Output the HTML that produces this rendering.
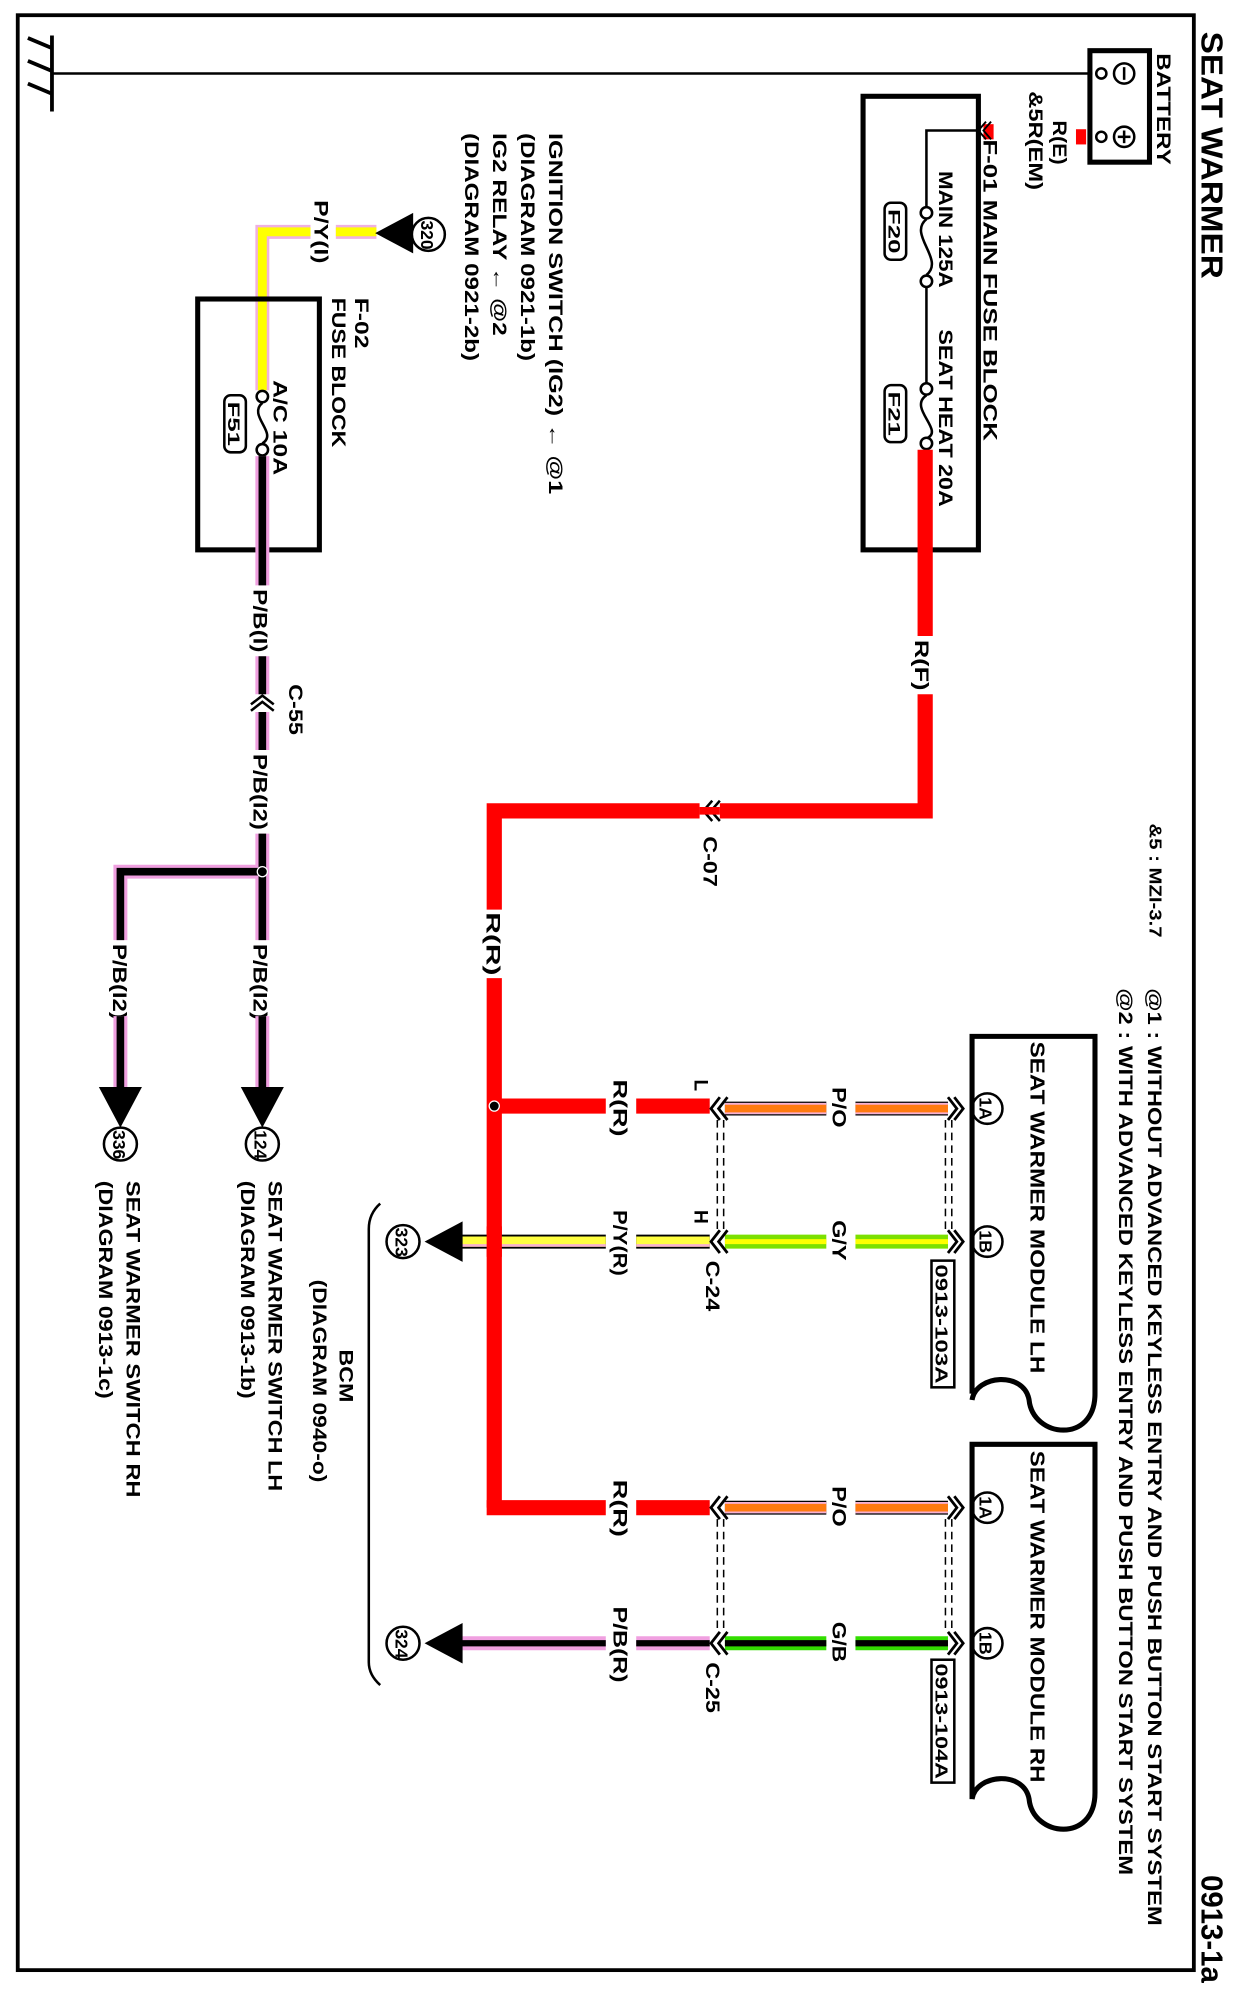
<!DOCTYPE html>
<html><head><meta charset="utf-8"><style>
html,body{margin:0;padding:0;background:#fff;}
svg{display:block}
text{font-family:"Liberation Sans",Arial,sans-serif;font-weight:bold;fill:#000;}
</style></head><body>
<svg width="1242" height="1998" viewBox="0 0 980 1577" preserveAspectRatio="none" xmlns="http://www.w3.org/2000/svg">
<rect x="0" y="0" width="980" height="1577" fill="#fff"/>
<rect x="14" y="12" width="928" height="1543" fill="none" stroke="#000" stroke-width="3"/>
<text font-size="24" font-weight="normal" transform="translate(948,25) rotate(90)" textLength="195" lengthAdjust="spacingAndGlyphs">SEAT WARMER</text>
<text font-size="24" font-weight="normal" transform="translate(948,1480) rotate(90)" textLength="85" lengthAdjust="spacingAndGlyphs">0913-1a</text>
<line x1="41" y1="28" x2="41" y2="88" stroke="#000" stroke-width="3"/>
<line x1="22" y1="30" x2="41" y2="38" stroke="#000" stroke-width="3"/>
<line x1="22" y1="48" x2="41" y2="56" stroke="#000" stroke-width="3"/>
<line x1="22" y1="66" x2="41" y2="74" stroke="#000" stroke-width="3"/>
<line x1="41" y1="58" x2="862" y2="58" stroke="#000" stroke-width="2"/>
<rect x="860" y="40" width="47" height="88" fill="none" stroke="#000" stroke-width="4"/>
<circle cx="869" cy="58" r="4" fill="#fff" stroke="#000" stroke-width="2"/>
<circle cx="887" cy="58" r="8" fill="none" stroke="#000" stroke-width="2"/>
<line x1="887" y1="53" x2="887" y2="63" stroke="#000" stroke-width="2"/>
<circle cx="869" cy="108" r="4" fill="#fff" stroke="#000" stroke-width="2"/>
<circle cx="887" cy="108" r="8" fill="none" stroke="#000" stroke-width="2"/>
<line x1="887" y1="103" x2="887" y2="113" stroke="#000" stroke-width="2"/>
<line x1="882" y1="108" x2="892" y2="108" stroke="#000" stroke-width="2"/>
<rect x="849" y="102" width="8" height="12" fill="#f00"/>
<text font-size="15" transform="translate(913,42) rotate(90)" textLength="88" lengthAdjust="spacingAndGlyphs">BATTERY</text>
<text font-size="15" transform="translate(831,95) rotate(90)" textLength="35" lengthAdjust="spacingAndGlyphs">R(E)</text>
<text font-size="15" transform="translate(812,72) rotate(90)" textLength="78" lengthAdjust="spacingAndGlyphs">&amp;5R(EM)</text>
<rect x="681" y="76" width="91" height="358" fill="none" stroke="#000" stroke-width="4"/>
<rect x="776" y="98" width="8" height="12" fill="#f00"/>
<polyline points="782,96 776,103 782,110" fill="none" stroke="#000" stroke-width="1.5"/>
<polyline points="778,96 772,103 778,110" fill="none" stroke="#000" stroke-width="1.5"/>
<polyline points="772,103 731,103 731,164" fill="none" stroke="#000" stroke-width="2"/>
<circle cx="731" cy="168" r="4.5" fill="#fff" stroke="#000" stroke-width="2"/>
<path d="M731,173 C716,185 746,205 731,217" fill="none" stroke="#000" stroke-width="2"/>
<circle cx="731" cy="222" r="4.5" fill="#fff" stroke="#000" stroke-width="2"/>
<line x1="731" y1="226" x2="731" y2="303" stroke="#000" stroke-width="2"/>
<circle cx="731" cy="307" r="4.5" fill="#fff" stroke="#000" stroke-width="2"/>
<path d="M731,312 C716,322 746,340 731,346" fill="none" stroke="#000" stroke-width="2"/>
<circle cx="731" cy="350" r="4.5" fill="#fff" stroke="#000" stroke-width="2"/>
<text font-size="15" transform="translate(776,110) rotate(90)" textLength="238" lengthAdjust="spacingAndGlyphs">F-01  MAIN FUSE BLOCK</text>
<text font-size="15" transform="translate(741,135) rotate(90)" textLength="92" lengthAdjust="spacingAndGlyphs">MAIN 125A</text>
<text font-size="15" transform="translate(741,260) rotate(90)" textLength="140" lengthAdjust="spacingAndGlyphs">SEAT HEAT 20A</text>
<rect x="698" y="160" width="17" height="45" rx="5" fill="none" stroke="#000" stroke-width="2"/>
<text font-size="13" transform="translate(701,165) rotate(90)" textLength="35" lengthAdjust="spacingAndGlyphs">F20</text>
<rect x="698" y="304" width="17" height="45" rx="5" fill="none" stroke="#000" stroke-width="2"/>
<text font-size="13" transform="translate(701,309) rotate(90)" textLength="35" lengthAdjust="spacingAndGlyphs">F21</text>
<g stroke="#f00" stroke-width="12" fill="none">
<line x1="730" y1="355" x2="730" y2="502"/>
<polyline points="730,548 730,640 390,640 390,718"/>
<line x1="390" y1="772" x2="390" y2="1190"/>
<polyline points="384,1190 478,1190"/>
<line x1="390" y1="873" x2="478" y2="873"/>
<line x1="502" y1="873" x2="560" y2="873"/>
<line x1="502" y1="1190" x2="560" y2="1190"/>
</g>
<rect x="552" y="630" width="16" height="20" fill="#fff"/>
<polyline points="562,632 555,640 562,648" fill="none" stroke="#000" stroke-width="2"/>
<polyline points="568,632 561,640 568,648" fill="none" stroke="#000" stroke-width="2"/>
<line x1="552" y1="640" x2="568" y2="640" stroke="#f00" stroke-width="6"/>
<text font-size="15" transform="translate(722,505) rotate(90)" textLength="40" lengthAdjust="spacingAndGlyphs">R(F)</text>
<text font-size="15" transform="translate(555,660) rotate(90)" textLength="40" lengthAdjust="spacingAndGlyphs">C-07</text>
<text font-size="15" transform="translate(384,720) rotate(90)" textLength="50" lengthAdjust="spacingAndGlyphs">R(R)</text>
<circle cx="390" cy="873" r="4" fill="#000" stroke="#fff" stroke-width="1"/>
<text font-size="14" transform="translate(907,650) rotate(90)" textLength="90" lengthAdjust="spacingAndGlyphs">&amp;5 : MZI-3.7</text>
<text font-size="15" transform="translate(906,780) rotate(90)" textLength="740" lengthAdjust="spacingAndGlyphs">@1 : WITHOUT ADVANCED KEYLESS ENTRY AND PUSH BUTTON START SYSTEM</text>
<text font-size="15" transform="translate(883,780) rotate(90)" textLength="700" lengthAdjust="spacingAndGlyphs">@2 : WITH ADVANCED KEYLESS ENTRY AND PUSH BUTTON START SYSTEM</text>
<path d="M767,1100 L767,818 L864,818 L864,1100 C864,1140 815,1135 812,1105 C808,1082 770,1085 767,1105" fill="none" stroke="#000" stroke-width="4"/>
<path d="M767,1420 L767,1140 L864,1140 L864,1415 C864,1455 815,1450 812,1420 C808,1397 770,1400 767,1420" fill="none" stroke="#000" stroke-width="4"/>
<text font-size="16" transform="translate(813,822) rotate(90)" textLength="262" lengthAdjust="spacingAndGlyphs">SEAT WARMER MODULE LH</text>
<text font-size="16" transform="translate(813,1145) rotate(90)" textLength="262" lengthAdjust="spacingAndGlyphs">SEAT WARMER MODULE RH</text>
<g fill="none" stroke="#000" stroke-width="2">
<circle cx="779" cy="875" r="12"/><circle cx="779" cy="980" r="12"/>
<circle cx="779" cy="1190" r="12"/><circle cx="779" cy="1297" r="12"/>
</g>
<g font-size="14">
<text transform="translate(773,866) rotate(90)" textLength="18" lengthAdjust="spacingAndGlyphs">1A</text>
<text transform="translate(773,971) rotate(90)" textLength="18" lengthAdjust="spacingAndGlyphs">1B</text>
<text transform="translate(773,1181) rotate(90)" textLength="18" lengthAdjust="spacingAndGlyphs">1A</text>
<text transform="translate(773,1288) rotate(90)" textLength="18" lengthAdjust="spacingAndGlyphs">1B</text>
</g>
<rect x="735" y="995" width="18" height="100" fill="#fff" stroke="#000" stroke-width="2"/>
<text font-size="14" transform="translate(738,998) rotate(90)" textLength="94" lengthAdjust="spacingAndGlyphs">0913-103A</text>
<rect x="735" y="1310" width="18" height="97" fill="#fff" stroke="#000" stroke-width="2"/>
<text font-size="14" transform="translate(738,1313) rotate(90)" textLength="91" lengthAdjust="spacingAndGlyphs">0913-104A</text>
<g fill="none">
<g stroke="#000" stroke-width="11"><line x1="572" y1="875" x2="652" y2="875"/><line x1="675" y1="875" x2="748" y2="875"/><line x1="572" y1="1190" x2="652" y2="1190"/><line x1="675" y1="1190" x2="748" y2="1190"/></g>
<g stroke="#f7b0d0" stroke-width="9"><line x1="572" y1="875" x2="652" y2="875"/><line x1="675" y1="875" x2="748" y2="875"/><line x1="572" y1="1190" x2="652" y2="1190"/><line x1="675" y1="1190" x2="748" y2="1190"/></g>
<g stroke="#ff7a10" stroke-width="6"><line x1="572" y1="875" x2="652" y2="875"/><line x1="675" y1="875" x2="748" y2="875"/><line x1="572" y1="1190" x2="652" y2="1190"/><line x1="675" y1="1190" x2="748" y2="1190"/></g>
<g stroke="#7ce000" stroke-width="11"><line x1="572" y1="980" x2="652" y2="980"/><line x1="675" y1="980" x2="748" y2="980"/></g>
<g stroke="#ffff00" stroke-width="4"><line x1="572" y1="980" x2="652" y2="980"/><line x1="675" y1="980" x2="748" y2="980"/></g>
<g stroke="#33dd00" stroke-width="11"><line x1="572" y1="1297" x2="652" y2="1297"/><line x1="675" y1="1297" x2="748" y2="1297"/></g>
<g stroke="#000" stroke-width="5"><line x1="572" y1="1297" x2="652" y2="1297"/><line x1="675" y1="1297" x2="748" y2="1297"/></g>
<g stroke="#000" stroke-width="11"><line x1="360" y1="980" x2="478" y2="980"/><line x1="502" y1="980" x2="560" y2="980"/></g>
<g stroke="#ffff40" stroke-width="8"><line x1="360" y1="980" x2="478" y2="980"/><line x1="502" y1="980" x2="560" y2="980"/></g>
<g stroke="#f7b0d0" stroke-width="2"><line x1="360" y1="983" x2="478" y2="983"/><line x1="502" y1="983" x2="560" y2="983"/></g>
<g stroke="#f0a0e0" stroke-width="11"><line x1="360" y1="1297" x2="478" y2="1297"/><line x1="502" y1="1297" x2="560" y2="1297"/></g>
<g stroke="#000" stroke-width="5"><line x1="360" y1="1297" x2="478" y2="1297"/><line x1="502" y1="1297" x2="560" y2="1297"/></g>
</g>
<line x1="390" y1="968" x2="390" y2="992" stroke="#f00" stroke-width="12"/>
<g fill="none" stroke="#000" stroke-width="2.2">
<polyline points="568,866 561,875 568,884"/><polyline points="574,866 567,875 574,884"/>
<polyline points="568,971 561,980 568,989"/><polyline points="574,971 567,980 574,989"/>
<polyline points="568,1181 561,1190 568,1199"/><polyline points="574,1181 567,1190 574,1199"/>
<polyline points="568,1288 561,1297 568,1306"/><polyline points="574,1288 567,1297 574,1306"/>
<polyline points="748,866 755,875 748,884"/><polyline points="753,866 760,875 753,884"/>
<polyline points="748,971 755,980 748,989"/><polyline points="753,971 760,980 753,989"/>
<polyline points="748,1181 755,1190 748,1199"/><polyline points="753,1181 760,1190 753,1199"/>
<polyline points="748,1288 755,1297 748,1306"/><polyline points="753,1288 760,1297 753,1306"/>
</g>
<g fill="none" stroke="#000" stroke-width="1.2" stroke-dasharray="6,4">
<line x1="566" y1="884" x2="566" y2="971"/><line x1="571" y1="884" x2="571" y2="971"/>
<line x1="566" y1="1199" x2="566" y2="1288"/><line x1="571" y1="1199" x2="571" y2="1288"/>
<line x1="746" y1="884" x2="746" y2="971"/><line x1="751" y1="884" x2="751" y2="971"/>
<line x1="746" y1="1199" x2="746" y2="1288"/><line x1="751" y1="1199" x2="751" y2="1288"/>
</g>
<g font-size="15">
<text transform="translate(484,852) rotate(90)" textLength="45" lengthAdjust="spacingAndGlyphs">R(R)</text>
<text transform="translate(484,1168) rotate(90)" textLength="45" lengthAdjust="spacingAndGlyphs">R(R)</text>
<text transform="translate(484,955) rotate(90)" textLength="52" lengthAdjust="spacingAndGlyphs">P/Y(R)</text>
<text transform="translate(484,1268) rotate(90)" textLength="60" lengthAdjust="spacingAndGlyphs">P/B(R)</text>
<text transform="translate(657,858) rotate(90)" textLength="32" lengthAdjust="spacingAndGlyphs">P/O</text>
<text transform="translate(657,1173) rotate(90)" textLength="32" lengthAdjust="spacingAndGlyphs">P/O</text>
<text transform="translate(657,963) rotate(90)" textLength="32" lengthAdjust="spacingAndGlyphs">G/Y</text>
<text transform="translate(657,1280) rotate(90)" textLength="32" lengthAdjust="spacingAndGlyphs">G/B</text>
<text transform="translate(548,852) rotate(90)">L</text>
<text transform="translate(548,955) rotate(90)">H</text>
<text transform="translate(557,995) rotate(90)" textLength="40" lengthAdjust="spacingAndGlyphs">C-24</text>
<text transform="translate(557,1312) rotate(90)" textLength="40" lengthAdjust="spacingAndGlyphs">C-25</text>
<text transform="translate(268,1065) rotate(90)" textLength="42" lengthAdjust="spacingAndGlyphs">BCM</text>
<text transform="translate(247,1010) rotate(90)" textLength="160" lengthAdjust="spacingAndGlyphs">(DIAGRAM 0940-o)</text>
</g>
<path d="M300,950 Q291,958 291,970 L291,1312 Q291,1322 300,1330" fill="none" stroke="#000" stroke-width="2"/>
<polygon points="335,980 365,964 365,996" fill="#000"/>
<polygon points="335,1297 365,1281 365,1313" fill="#000"/>
<circle cx="318" cy="980" r="13" fill="#fff" stroke="#000" stroke-width="2"/>
<circle cx="318" cy="1297" r="13" fill="#fff" stroke="#000" stroke-width="2"/>
<text font-size="14" transform="translate(312,969) rotate(90)" textLength="23" lengthAdjust="spacingAndGlyphs">323</text>
<text font-size="14" transform="translate(312,1286) rotate(90)" textLength="23" lengthAdjust="spacingAndGlyphs">324</text>
<g font-size="15">
<text transform="translate(433,105) rotate(90)" textLength="285" lengthAdjust="spacingAndGlyphs">IGNITION SWITCH (IG2) ← @1</text>
<text transform="translate(411,105) rotate(90)" textLength="180" lengthAdjust="spacingAndGlyphs">(DIAGRAM 0921-1b)</text>
<text transform="translate(389,105) rotate(90)" textLength="160" lengthAdjust="spacingAndGlyphs">IG2 RELAY ← @2</text>
<text transform="translate(367,105) rotate(90)" textLength="180" lengthAdjust="spacingAndGlyphs">(DIAGRAM  0921-2b)</text>
<text transform="translate(248,158) rotate(90)" textLength="50" lengthAdjust="spacingAndGlyphs">P/Y(I)</text>
<text transform="translate(280,235) rotate(90)" textLength="40" lengthAdjust="spacingAndGlyphs">F-02</text>
<text transform="translate(262,235) rotate(90)" textLength="118" lengthAdjust="spacingAndGlyphs">FUSE BLOCK</text>
<text transform="translate(216,300) rotate(90)" textLength="75" lengthAdjust="spacingAndGlyphs">A/C 10A</text>
<text transform="translate(200,465) rotate(90)" textLength="50" lengthAdjust="spacingAndGlyphs">P/B(I)</text>
<text transform="translate(228,540) rotate(90)" textLength="40" lengthAdjust="spacingAndGlyphs">C-55</text>
<text transform="translate(200,595) rotate(90)" textLength="60" lengthAdjust="spacingAndGlyphs">P/B(I2)</text>
<text transform="translate(200,745) rotate(90)" textLength="60" lengthAdjust="spacingAndGlyphs">P/B(I2)</text>
<text transform="translate(89,745) rotate(90)" textLength="60" lengthAdjust="spacingAndGlyphs">P/B(I2)</text>
<text transform="translate(212,932) rotate(90)" textLength="245" lengthAdjust="spacingAndGlyphs">SEAT WARMER SWITCH LH</text>
<text transform="translate(190,932) rotate(90)" textLength="172" lengthAdjust="spacingAndGlyphs">(DIAGRAM 0913-1b)</text>
<text transform="translate(100,932) rotate(90)" textLength="250" lengthAdjust="spacingAndGlyphs">SEAT WARMER SWITCH RH</text>
<text transform="translate(78,932) rotate(90)" textLength="172" lengthAdjust="spacingAndGlyphs">(DIAGRAM 0913-1c)</text>
</g>
<g fill="none">
<polyline points="297,183 265,183" stroke="#f0b0e0" stroke-width="11"/>
<polyline points="245,183 207,183 207,308" stroke="#f0b0e0" stroke-width="11"/>
<polyline points="297,183 265,183" stroke="#ffff00" stroke-width="7"/>
<polyline points="245,183 207,183 207,308" stroke="#ffff00" stroke-width="7"/>
</g>
<polygon points="296,184 326,168 326,200" fill="#000"/>
<circle cx="338" cy="185" r="13" fill="#fff" stroke="#000" stroke-width="2"/>
<text font-size="14" transform="translate(332,174) rotate(90)" textLength="23" lengthAdjust="spacingAndGlyphs">320</text>
<rect x="156" y="236" width="96" height="198" fill="none" stroke="#000" stroke-width="4"/>
<circle cx="207" cy="313" r="4.5" fill="#fff" stroke="#000" stroke-width="2"/>
<path d="M207,318 C195,328 220,342 207,350" fill="none" stroke="#000" stroke-width="2"/>
<circle cx="207" cy="355" r="4.5" fill="#fff" stroke="#000" stroke-width="2"/>
<rect x="177" y="312" width="17" height="45" rx="5" fill="none" stroke="#000" stroke-width="2"/>
<text font-size="13" transform="translate(180,317) rotate(90)" textLength="35" lengthAdjust="spacingAndGlyphs">F51</text>
<g fill="none">
<g stroke="#f0a0e0" stroke-width="11">
<line x1="207" y1="360" x2="207" y2="462"/><line x1="207" y1="518" x2="207" y2="548"/>
<line x1="207" y1="562" x2="207" y2="592"/><line x1="207" y1="658" x2="207" y2="742"/>
<line x1="207" y1="802" x2="207" y2="862"/>
<polyline points="207,688 95,688 95,742"/><line x1="95" y1="802" x2="95" y2="862"/>
</g>
<g stroke="#000" stroke-width="6">
<line x1="207" y1="360" x2="207" y2="462"/><line x1="207" y1="518" x2="207" y2="548"/>
<line x1="207" y1="562" x2="207" y2="592"/><line x1="207" y1="658" x2="207" y2="742"/>
<line x1="207" y1="802" x2="207" y2="862"/>
<polyline points="207,688 95,688 95,742"/><line x1="95" y1="802" x2="95" y2="862"/>
</g>
</g>
<g fill="none" stroke="#000" stroke-width="2">
<polyline points="198,556 207,549 216,556"/><polyline points="198,561 207,554 216,561"/>
</g>
<circle cx="207" cy="688" r="4" fill="#000" stroke="#fff" stroke-width="1"/>
<polygon points="190,858 224,858 207,890" fill="#000"/>
<polygon points="78,858 112,858 95,890" fill="#000"/>
<circle cx="207" cy="903" r="13" fill="#fff" stroke="#000" stroke-width="2"/>
<circle cx="95" cy="903" r="13" fill="#fff" stroke="#000" stroke-width="2"/>
<text font-size="14" transform="translate(201,892) rotate(90)" textLength="23" lengthAdjust="spacingAndGlyphs">124</text>
<text font-size="14" transform="translate(89,892) rotate(90)" textLength="23" lengthAdjust="spacingAndGlyphs">336</text>
</svg>
</body></html>
